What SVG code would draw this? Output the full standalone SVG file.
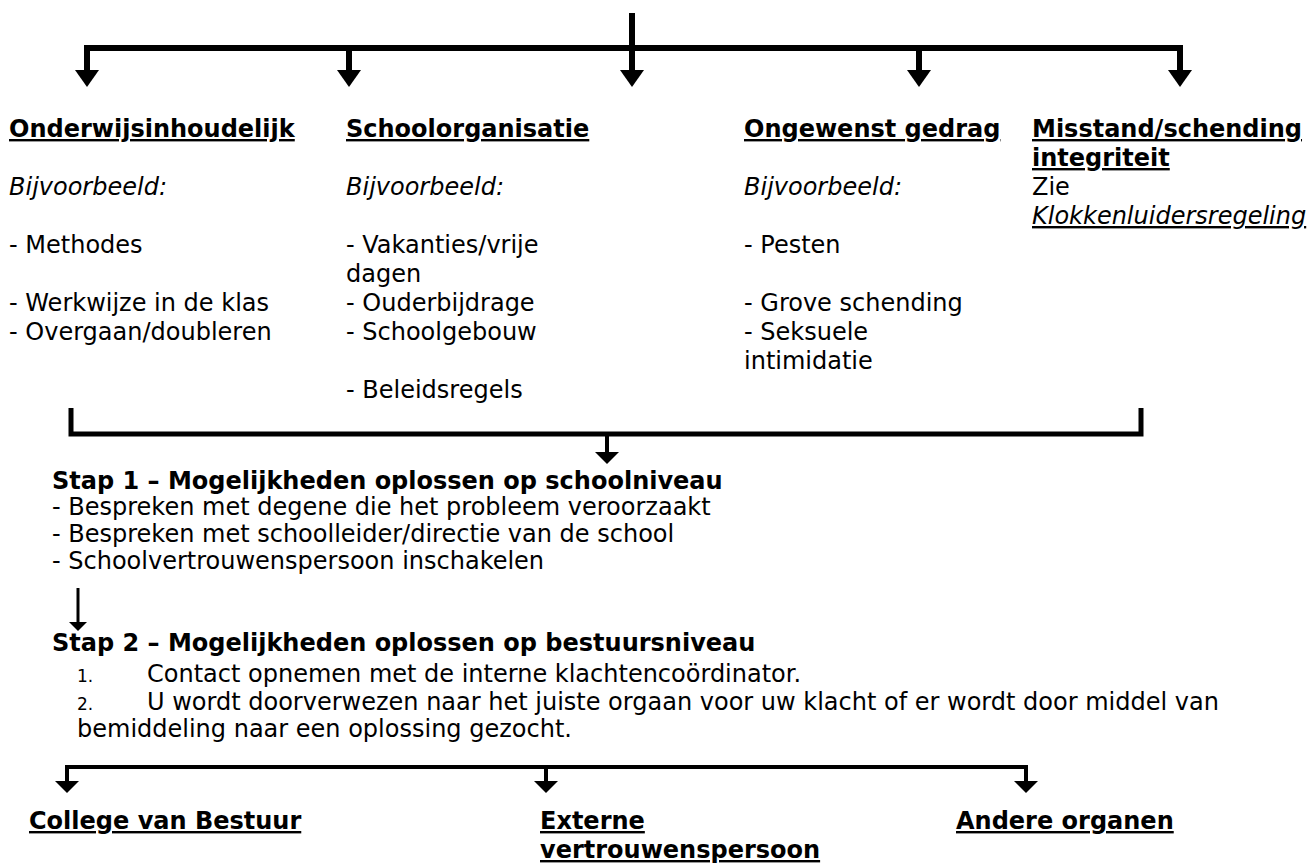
<svg xmlns="http://www.w3.org/2000/svg" width="1307" height="864" viewBox="0 0 1307 864">
  <style>
    .t { font-family: "DejaVu Sans", Verdana, "Liberation Sans", sans-serif; font-size: 24px; fill: #000; }
    .b { font-weight: bold; }
    .i { font-style: italic; }
    .u { text-decoration: underline; }
    .n { font-size: 17px; }
    .ln { stroke: #000; fill: none; stroke-linecap: butt; stroke-linejoin: miter; }
    .thick { stroke-width: 6; }
    .mid { stroke-width: 5; }
    .thin { stroke-width: 4; }
    .hair { stroke-width: 3; }
    .ah { fill: #000; stroke: none; }
  </style>
  <rect x="0" y="0" width="1307" height="864" fill="#fff"/>

  <g id="connectors">
    <!-- top distribution -->
    <path class="ln thick" d="M632 13 V72"/>
    <path class="ln thick" d="M87 72 V48 H1180 V72"/>
    <path class="ln thick" d="M349 48 V72 M919 48 V72"/>
    <polygon class="ah" points="75,70 99,70 87,87"/>
    <polygon class="ah" points="337,70 361,70 349,87"/>
    <polygon class="ah" points="620,70 644,70 632,87"/>
    <polygon class="ah" points="907,70 931,70 919,87"/>
    <polygon class="ah" points="1168,70 1192,70 1180,87"/>

    <!-- collecting bracket -->
    <path class="ln mid" d="M71 408 V434 H1141 V408"/>
    <path class="ln thin" d="M607 434 V453"/>
    <polygon class="ah" points="595,452 619,452 607,464"/>

    <!-- stap 1 to stap 2 -->
    <path class="ln hair" d="M78 588 V623"/>
    <polygon class="ah" points="69,622 87,622 78,631"/>

    <!-- bottom distribution -->
    <path class="ln thin" d="M67 783 V767 H1026 V783"/>
    <path class="ln thin" d="M546 767 V783"/>
    <polygon class="ah" points="55,781 79,781 67,793"/>
    <polygon class="ah" points="534,781 558,781 546,793"/>
    <polygon class="ah" points="1014,781 1038,781 1026,793"/>
  </g>

  <g id="node-onderwijsinhoudelijk">
    <text class="t b u" x="9" y="137">Onderwijsinhoudelijk</text>
    <text class="t i" x="9" y="195">Bijvoorbeeld:</text>
    <text class="t" x="9" y="253">- Methodes</text>
    <text class="t" x="9" y="311">- Werkwijze in de klas</text>
    <text class="t" x="9" y="340">- Overgaan/doubleren</text>
  </g>

  <g id="node-schoolorganisatie">
    <text class="t b u" x="346" y="137">Schoolorganisatie</text>
    <text class="t i" x="346" y="195">Bijvoorbeeld:</text>
    <text class="t" x="346" y="253">- Vakanties/vrije</text>
    <text class="t" x="346" y="282">dagen</text>
    <text class="t" x="346" y="311">- Ouderbijdrage</text>
    <text class="t" x="346" y="340">- Schoolgebouw</text>
    <text class="t" x="346" y="398">- Beleidsregels</text>
  </g>

  <g id="node-ongewenst-gedrag">
    <text class="t b u" x="744" y="137">Ongewenst gedrag</text>
    <text class="t i" x="744" y="195">Bijvoorbeeld:</text>
    <text class="t" x="744" y="253">- Pesten</text>
    <text class="t" x="744" y="311">- Grove schending</text>
    <text class="t" x="744" y="340">- Seksuele</text>
    <text class="t" x="744" y="369">intimidatie</text>
  </g>

  <g id="node-misstand">
    <text class="t b u" x="1032" y="137">Misstand/schending</text>
    <text class="t b u" x="1032" y="166">integriteit</text>
    <text class="t" x="1032" y="195">Zie</text>
    <text class="t i u" x="1032" y="224">Klokkenluidersregeling</text>
  </g>

  <g id="node-stap1">
    <text class="t b" x="52" y="489">Stap 1 – Mogelijkheden oplossen op schoolniveau</text>
    <text class="t" x="52" y="515">- Bespreken met degene die het probleem veroorzaakt</text>
    <text class="t" x="52" y="542">- Bespreken met schoolleider/directie van de school</text>
    <text class="t" x="52" y="569">- Schoolvertrouwenspersoon inschakelen</text>
  </g>

  <g id="node-stap2">
    <text class="t b" x="52" y="651">Stap 2 – Mogelijkheden oplossen op bestuursniveau</text>
    <text class="t n" x="77" y="682">1.</text>
    <text class="t" x="147" y="682">Contact opnemen met de interne klachtencoördinator.</text>
    <text class="t n" x="77" y="710">2.</text>
    <text class="t" x="147" y="710">U wordt doorverwezen naar het juiste orgaan voor uw klacht of er wordt door middel van</text>
    <text class="t" x="77" y="737">bemiddeling naar een oplossing gezocht.</text>
  </g>

  <g id="node-college-van-bestuur">
    <text class="t b u" x="29" y="829">College van Bestuur</text>
  </g>

  <g id="node-externe-vertrouwenspersoon">
    <text class="t b u" x="540" y="829">Externe</text>
    <text class="t b u" x="540" y="858">vertrouwenspersoon</text>
  </g>

  <g id="node-andere-organen">
    <text class="t b u" x="956" y="829">Andere organen</text>
  </g>
</svg>
